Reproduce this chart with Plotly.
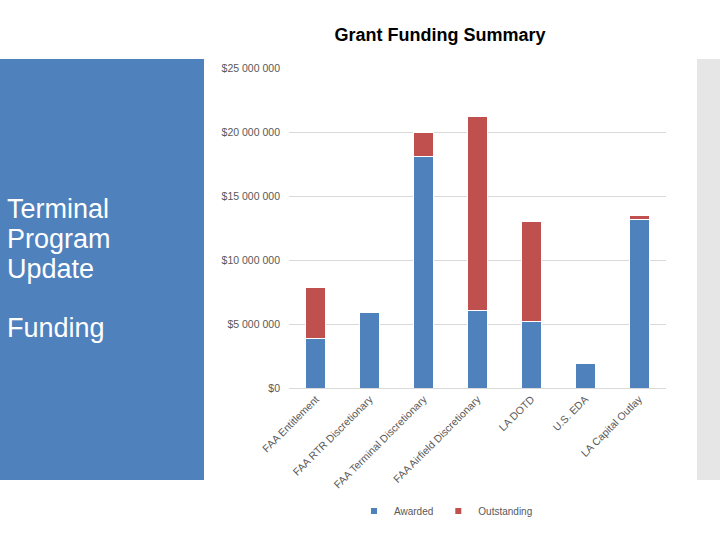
import plotly.graph_objects as go

categories = ["FAA Entitlement", "FAA RTR Discretionary", "FAA Terminal Discretionary",
              "FAA Airfield Discretionary", "LA DOTD", "U.S. EDA", "LA Capital Outlay"]
awarded = [3_880_000, 5_860_000, 18_100_000, 6_070_000, 5_200_000, 1_950_000, 13_200_000]
outstanding = [4_000_000, 0, 1_900_000, 15_180_000, 7_770_000, 0, 300_000]
tick_vals = [0, 5_000_000, 10_000_000, 15_000_000, 20_000_000, 25_000_000]
tick_text = ["$0", "$5 000 000", "$10 000 000", "$15 000 000", "$20 000 000", "$25 000 000"]

BLUE = "#4F81BD"
RED = "#C0504D"
FONT = "Liberation Sans, Arial, sans-serif"
W, H = 720, 540

fig = go.Figure()
fig.add_trace(go.Bar(x=categories, y=awarded, name="Awarded", marker_color=BLUE,
                     marker_line=dict(color="white", width=1), showlegend=False))
fig.add_trace(go.Bar(x=categories, y=outstanding, name="Outstanding", marker_color=RED,
                     marker_line=dict(color="white", width=1), showlegend=False))
# legend-only entries with small square symbols
fig.add_trace(go.Scatter(x=[None], y=[None], mode="markers", name="Awarded",
                         marker=dict(symbol="square", size=6, color=BLUE)))
fig.add_trace(go.Scatter(x=[None], y=[None], mode="markers", name="Outstanding",
                         marker=dict(symbol="square", size=6, color=RED)))

def px_x(p):
    return p / W

def px_y(p):
    return 1 - p / H

fig.update_layout(
    width=W, height=H,
    margin=dict(l=0, r=0, t=0, b=0),
    paper_bgcolor="white", plot_bgcolor="white",
    barmode="stack", bargap=0.63,
    font=dict(family=FONT, color="#595959", size=10),
    title=dict(text="<b>Grant Funding Summary</b>", x=px_x(440), xanchor="center",
               y=px_y(35), yanchor="middle",
               font=dict(family=FONT, size=18, color="black")),
    xaxis=dict(domain=[px_x(289), px_x(666)], tickangle=-45, showgrid=False,
               showline=True, linecolor="#D9D9D9", linewidth=1, ticks="",
               tickfont=dict(size=10.5, color="#595959"), automargin=False),
    yaxis=dict(domain=[px_y(388), px_y(68)], range=[0, 25_000_000],
               tickvals=tick_vals, ticktext=tick_text, showgrid=True,
               gridcolor="#D9D9D9", gridwidth=1, zeroline=False, ticks="",
               ticklabelstandoff=8,
               tickfont=dict(size=10.5, color="#595959"), automargin=False),
    legend=dict(orientation="h", x=px_x(446), xanchor="center", y=px_y(511),
                yanchor="middle", font=dict(size=10, color="#595959"),
                itemwidth=30, traceorder="normal", bgcolor="rgba(0,0,0,0)"),
    shapes=[
        dict(type="rect", xref="paper", yref="paper", x0=0, x1=px_x(204),
             y0=px_y(480), y1=px_y(59), fillcolor=BLUE, line=dict(width=0), layer="below"),
        dict(type="rect", xref="paper", yref="paper", x0=px_x(697), x1=1,
             y0=px_y(480), y1=px_y(59), fillcolor="#E6E6E6", line=dict(width=0), layer="below"),
    ],
)

panel_lines = [("Terminal", 209), ("Program", 239), ("Update", 269), ("Funding", 328)]
for txt, yc in panel_lines:
    fig.add_annotation(text=txt, xref="paper", yref="paper", x=px_x(5), y=px_y(yc),
                       xanchor="left", yanchor="middle", showarrow=False,
                       font=dict(family=FONT, size=27, color="white"))

fig.write_html("out.html", config={"displayModeBar": False},
               post_script="document.body.style.margin='0';document.body.style.padding='0';")
